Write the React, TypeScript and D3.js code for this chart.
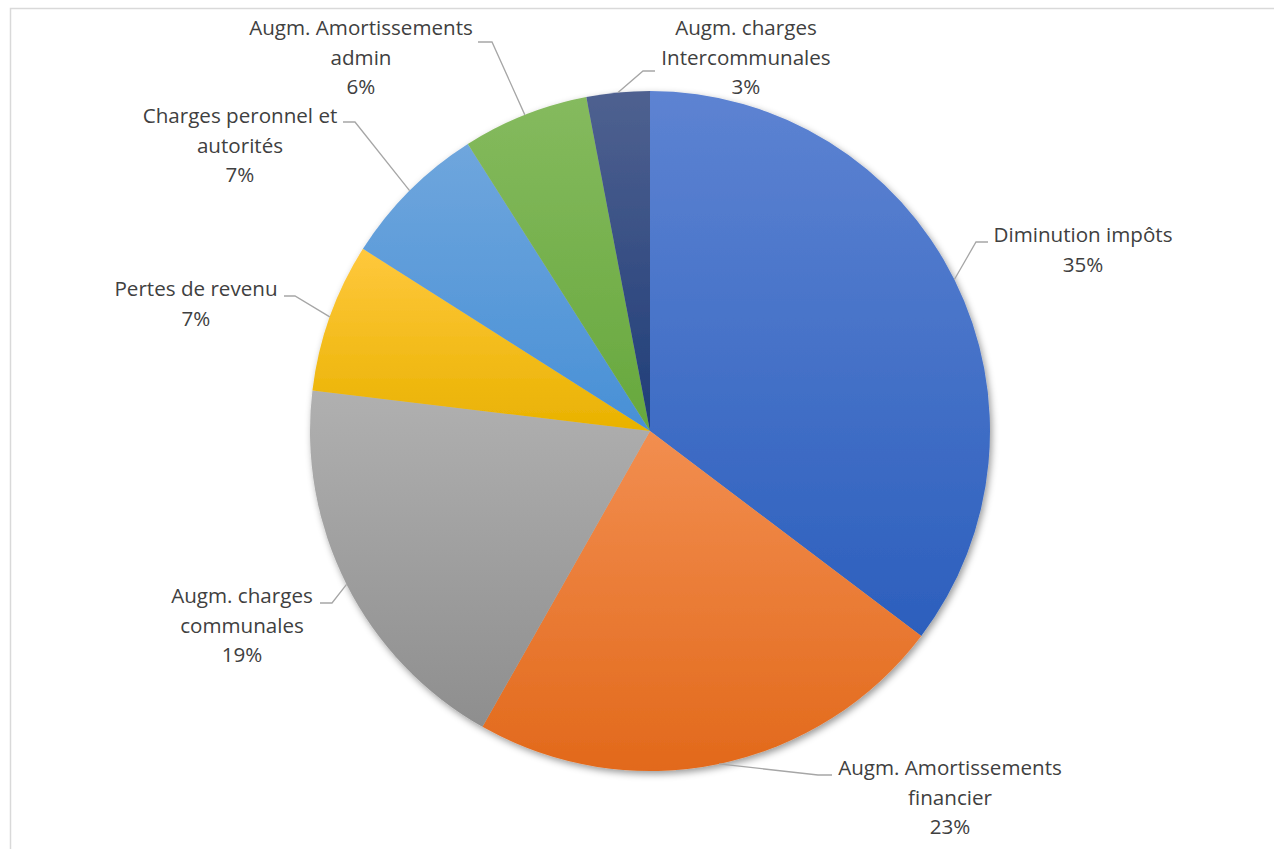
import React from "react";
import * as d3 from "d3";

// ---- data ----
const categories: string[][] = [
  ["Diminution impôts"],
  ["Augm. Amortissements", "financier"],
  ["Augm. charges", "communales"],
  ["Pertes de revenu"],
  ["Charges peronnel et", "autorités"],
  ["Augm. Amortissements", "admin"],
  ["Augm. charges", "Intercommunales"],
];
const values: number[] = [35.3, 22.9, 18.7, 7.1, 7.0, 6.0, 3.0];

// ---- styles ----
const gradTop = ["#5d83d2", "#f28e50", "#b0b0b0", "#ffc83d", "#6fa6dd", "#85ba5e", "#4f6190"];
const gradBottom = ["#2c5fbd", "#e2691b", "#8e8e8e", "#e9b200", "#4890d6", "#67a83d", "#1f3d78"];

// label layout: text centre x, first baseline y, horizontal leader segment (xa..xb at y)
const labelLayout = [
  { cx: 1083, by: 242, xa: 976, xb: 988, ly: 242 },
  { cx: 950, by: 775, xa: 818, xb: 832, ly: 775 },
  { cx: 242, by: 603, xa: 332, xb: 320, ly: 603 },
  { cx: 196, by: 296, xa: 295, xb: 284, ly: 296 },
  { cx: 240, by: 123, xa: 355, xb: 343, ly: 122 },
  { cx: 361, by: 35, xa: 492, xb: 478, ly: 42 },
  { cx: 746, by: 35, xa: 643, xb: 655, ly: 71 },
];

const W = 1274;
const H = 849;
const CX = 650;
const CY = 431;
const R = 340;
const LINE_H = 29.5;

export default function App() {
  const total = d3.sum(values);
  const pie = d3.pie<number>().sort(null).value((d) => d)(values);
  const arc = d3.arc<d3.PieArcDatum<number>>().innerRadius(0).outerRadius(R);
  const fmt = (v: number) => `${Math.round((v / total) * 100)}%`;

  return (
    <svg
      width={W}
      height={H}
      style={{ position: "absolute", left: 0, top: 0, background: "#fff" }}
      fontFamily="'Open Sans', sans-serif"
    >
      <defs>
        {gradTop.map((c, i) => (
          <linearGradient key={i} id={`g${i}`} x1="0" y1="0" x2="0" y2="1">
            <stop offset="0" stopColor={c} />
            <stop offset="1" stopColor={gradBottom[i]} />
          </linearGradient>
        ))}
        <filter id="shadow" x="-10%" y="-10%" width="120%" height="120%">
          <feDropShadow dx="2" dy="3" stdDeviation="3.5" floodColor="#000" floodOpacity="0.4" />
        </filter>
      </defs>
      <rect x={10.5} y={8.5} width={1400} height={1000} fill="#fff" stroke="#d9d9d9" strokeWidth={1.5} />
      <g transform={`translate(${CX},${CY})`} filter="url(#shadow)">
        {pie.map((p, i) => (
          <path key={i} d={arc(p) as string} fill={`url(#g${i})`} />
        ))}
      </g>
      {pie.map((p, i) => {
        const mid = (p.startAngle + p.endAngle) / 2;
        const ex = CX + R * Math.sin(mid);
        const ey = CY - R * Math.cos(mid);
        const L = labelLayout[i];
        const lines = [...categories[i], fmt(values[i])];
        return (
          <g key={i}>
            <polyline
              points={`${ex},${ey} ${L.xa},${L.ly} ${L.xb},${L.ly}`}
              fill="none"
              stroke="#a6a6a6"
              strokeWidth={1.3}
            />
            <text textAnchor="middle" fontSize={20.6} fill="#404040">
              {lines.map((t, j) => (
                <tspan key={j} x={L.cx} y={L.by + j * LINE_H}>
                  {t}
                </tspan>
              ))}
            </text>
          </g>
        );
      })}
    </svg>
  );
}
